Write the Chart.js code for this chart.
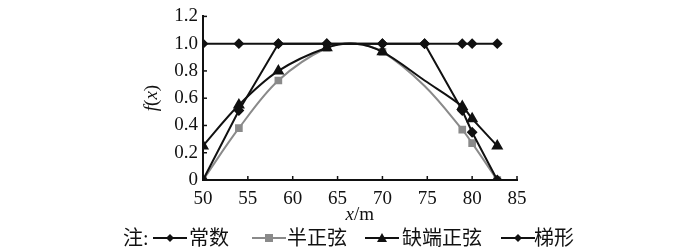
<!DOCTYPE html>
<html>
<head>
<meta charset="utf-8">
<script src="https://cdn.jsdelivr.net/npm/chart.js@4"></script>
<style>
body { margin: 0; background: #fff; }
#wrap { position: relative; width: 700px; height: 248px; overflow: hidden; }
.lg { position: absolute; top: 226px; height: 24px; line-height: 24px; font-size: 20px;
      font-family: "Liberation Serif", "Noto Sans CJK SC", serif; color: #111; white-space: nowrap; }
.lg svg { position: absolute; top: 6px; left: 0; }
.ttl { position: absolute; font: 19px "Liberation Serif", serif; color: #111; white-space: nowrap; line-height: 20px; }
</style>
</head>
<body>
<div id="wrap">
  <canvas id="myChart" width="700" height="248"></canvas>
  <span class="ttl" id="xTitle"><i>x</i>/m</span>
  <span class="ttl" id="yTitle"><i>f</i>(<i>x</i>)</span>
  <span class="lg" style="left:123px">注:</span>
  <span class="lg" style="left:153px"><svg width="34" height="12"><line x1="0" y1="6" x2="34" y2="6" stroke="#111" stroke-width="2"/><path d="M17 2 L21 6 L17 10 L13 6 Z" fill="#111"/></svg></span>
  <span class="lg" style="left:189px">常数</span>
  <span class="lg" style="left:252px"><svg width="34" height="12"><line x1="0" y1="6" x2="34" y2="6" stroke="#8a8a8a" stroke-width="2"/><rect x="13" y="2" width="8" height="8" fill="#8a8a8a"/></svg></span>
  <span class="lg" style="left:287px">半正弦</span>
  <span class="lg" style="left:365px"><svg width="34" height="12"><line x1="0" y1="6" x2="34" y2="6" stroke="#111" stroke-width="2"/><path d="M17 1 L22 10 L12 10 Z" fill="#111"/></svg></span>
  <span class="lg" style="left:402px">缺端正弦</span>
  <span class="lg" style="left:501px"><svg width="34" height="12"><line x1="0" y1="6" x2="34" y2="6" stroke="#111" stroke-width="2"/><path d="M17 2 L21 6 L17 10 L13 6 Z" fill="#111"/></svg></span>
  <span class="lg" style="left:534px">梯形</span>
</div>
<script>
// values
var constX = [50, 54, 58.4, 63.8, 70, 74.7, 78.9, 80, 82.8];
var constY = [1, 1, 1, 1, 1, 1, 1, 1, 1];

var sineX = [50, 54, 58.4, 63.8, 67, 70, 74.7, 78.9, 80, 82.8];
var halfSineY = [0, 0.38, 0.73, 0.97, 1.0, 0.94, 0.69, 0.37, 0.27, 0];
var truncSineY = [0.25, 0.55, 0.80, 0.97, 1.0, 0.94, 0.73, 0.54, 0.45, 0.25];
var sineMarks = [4, 4, 4, 4, 0, 4, 0, 4, 4, 4];

var trapX = [50, 54, 58.4, 63.8, 70, 74.7, 78.9, 80, 82.8];
var trapY = [0, 0.51, 1, 1, 1, 1, 0.51, 0.35, 0];

var xTicks = [50, 55, 60, 65, 70, 75, 80, 85];
var yTickLabels = ['0', '0.2', '0.4', '0.6', '0.8', '1.0', '1.2'];

function pts(xs, ys) {
    return xs.map(function (x, i) { return { x: x, y: ys[i] }; });
}

var black = '#111';
var gray = '#8a8a8a';
var numFont = { family: 'Liberation Serif', size: 19 };

// small inward tick marks, and place the axis titles from the scales
var innerTicks = {
    id: 'innerTicks',
    afterDraw: function (chart) {
        var c = chart.ctx, xs = chart.scales.x, ys = chart.scales.y;
        c.save();
        c.strokeStyle = black;
        c.lineWidth = 1.5;
        xTicks.forEach(function (v) {
            var px = xs.getPixelForValue(v);
            c.beginPath(); c.moveTo(px, ys.bottom); c.lineTo(px, ys.bottom - 4); c.stroke();
        });
        yTickLabels.forEach(function (l, i) {
            var py = ys.getPixelForValue(i * 0.2);
            c.beginPath(); c.moveTo(xs.left, py); c.lineTo(xs.left + 4, py); c.stroke();
        });
        c.restore();

        var xt = document.getElementById('xTitle');
        xt.style.left = ((xs.left + xs.right) / 2 - xt.offsetWidth / 2) + 'px';
        xt.style.top = (ys.bottom + 24) + 'px';
        var yt = document.getElementById('yTitle');
        yt.style.left = (151 - yt.offsetWidth / 2) + 'px';
        yt.style.top = ((ys.top + ys.bottom) / 2 - 10) + 'px';
        yt.style.transform = 'rotate(-90deg)';
    }
};

const ctx = document.getElementById('myChart').getContext('2d');
const myChart = new Chart(ctx, {
    type: 'line',
    data: {
        datasets: [{
            label: '常数',
            data: pts(constX, constY),
            borderColor: black, backgroundColor: black,
            borderWidth: 2, pointStyle: 'rectRot', pointRadius: 4, tension: 0, order: 2
        }, {
            label: '半正弦',
            data: pts(sineX, halfSineY),
            borderColor: gray, backgroundColor: gray,
            borderWidth: 2, pointStyle: 'rect', pointRadius: sineMarks, tension: 0.35, order: 10
        }, {
            label: '缺端正弦',
            data: pts(sineX, truncSineY),
            borderColor: black, backgroundColor: black,
            borderWidth: 2, pointStyle: 'triangle', pointRadius: sineMarks.map(function (r) { return r ? 5 : 0; }),
            tension: 0.35, order: 3
        }, {
            label: '梯形',
            data: pts(trapX, trapY),
            borderColor: black, backgroundColor: black,
            borderWidth: 2, pointStyle: 'rectRot', pointRadius: 4, tension: 0, order: 1
        }]
    },
    options: {
        responsive: false,
        animation: false,
        layout: { padding: { left: 0, right: 183, top: 10, bottom: 0 } },
        plugins: { legend: { display: false }, tooltip: { enabled: false } },
        scales: {
            x: {
                type: 'linear', min: 50, max: 85,
                afterBuildTicks: function (s) { s.ticks = xTicks.map(function (v) { return { value: v }; }); },
                afterFit: function (s) { s.height = 68; },
                grid: { drawOnChartArea: false, drawTicks: false },
                border: { color: black, width: 2 },
                ticks: { color: black, font: numFont, padding: 8, maxRotation: 0 }
            },
            y: {
                min: 0, max: 1.2,
                ticks: {
                    stepSize: 0.2, color: black, font: numFont, padding: 5,
                    callback: function (v, i) { return yTickLabels[i]; }
                },
                afterFit: function (s) { s.width = 203; },
                grid: { drawOnChartArea: false, drawTicks: false },
                border: { color: black, width: 2 }
            }
        }
    },
    plugins: [innerTicks]
});
</script>
</body>
</html>
